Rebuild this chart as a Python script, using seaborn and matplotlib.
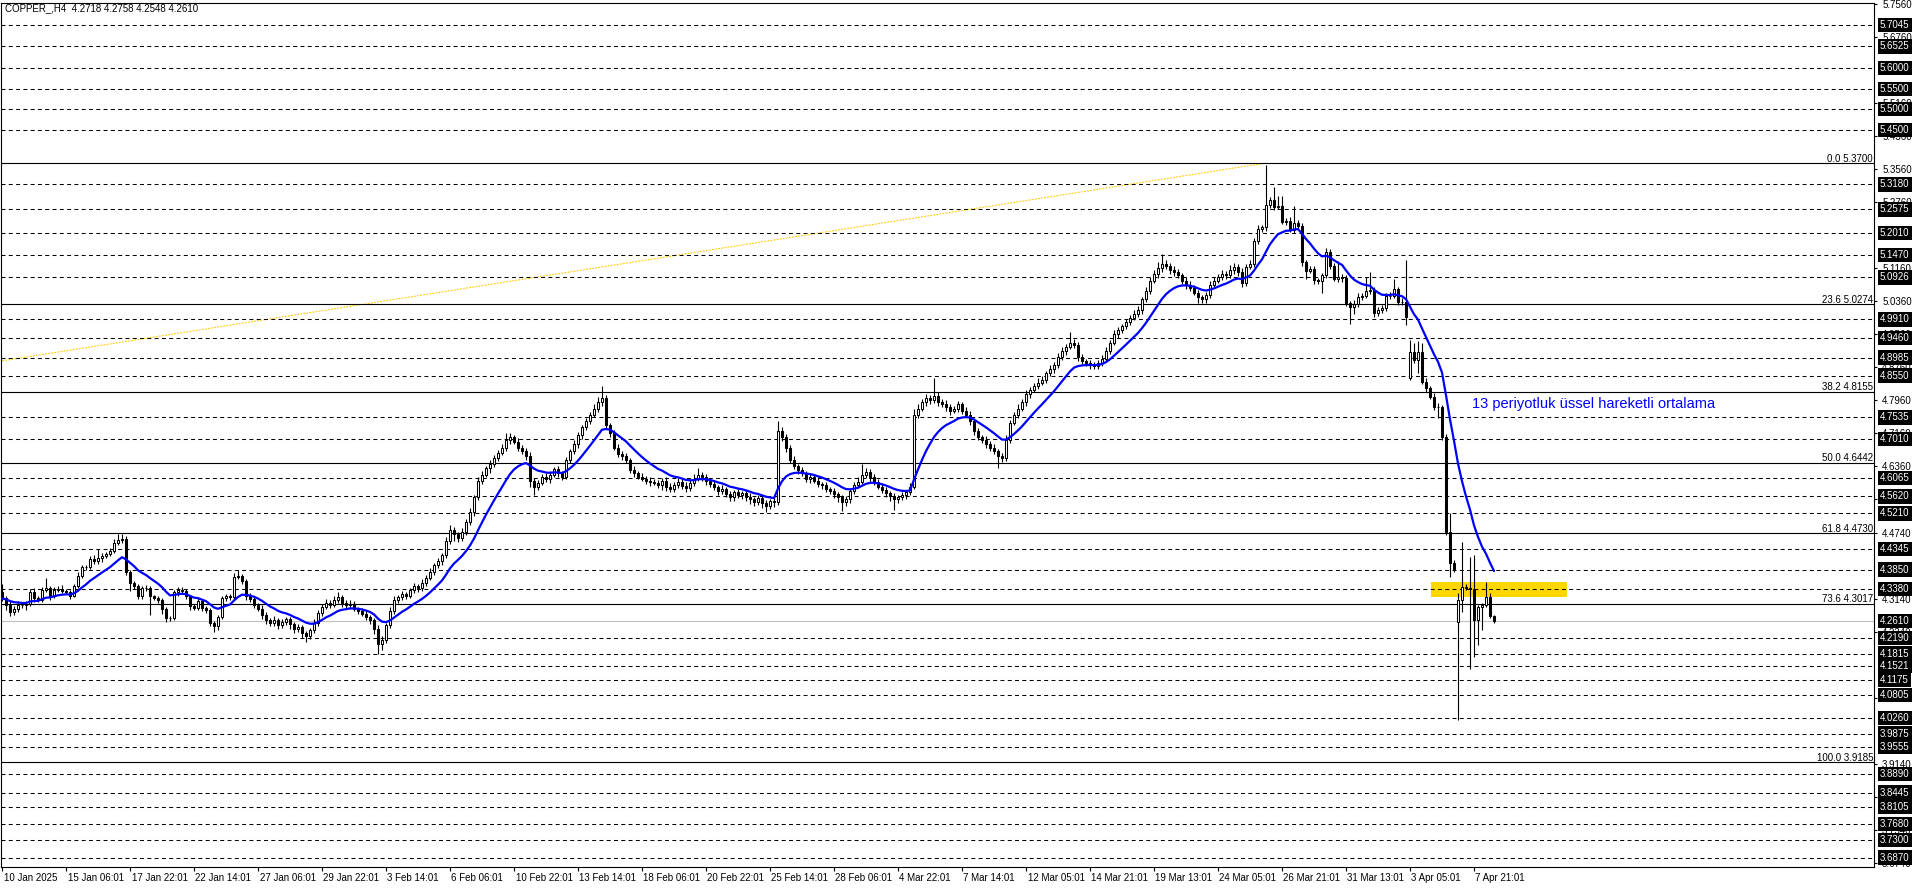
import numpy as np
import pandas as pd
import seaborn as sns
import matplotlib.pyplot as plt
from matplotlib.patches import Rectangle
from matplotlib import transforms

# H4 closes, one per bar (10 Jan 2025 -> 8 Apr 2025)
closes = [
    4.315, 4.300, 4.283, 4.290, 4.300, 4.298, 4.302, 4.330, 4.315, 4.312,
    4.335, 4.340, 4.322, 4.335, 4.338, 4.333, 4.330, 4.322, 4.345, 4.370,
    4.390, 4.392, 4.410, 4.405, 4.412, 4.418, 4.422, 4.430, 4.450, 4.456,
    4.460, 4.378, 4.352, 4.345, 4.322, 4.340, 4.340, 4.320, 4.316, 4.311,
    4.290, 4.267, 4.268, 4.330, 4.336, 4.332, 4.320, 4.296, 4.292, 4.308,
    4.291, 4.286, 4.255, 4.247, 4.270, 4.315, 4.320, 4.318, 4.368, 4.370,
    4.357, 4.320, 4.314, 4.300, 4.290, 4.275, 4.262, 4.255, 4.262, 4.250,
    4.258, 4.265, 4.252, 4.240, 4.245, 4.232, 4.225, 4.238, 4.255, 4.280,
    4.295, 4.305, 4.300, 4.312, 4.318, 4.305, 4.298, 4.302, 4.290, 4.285,
    4.278, 4.270, 4.262, 4.240, 4.205, 4.215, 4.250, 4.285, 4.310, 4.318,
    4.325, 4.322, 4.335, 4.345, 4.340, 4.352, 4.365, 4.380, 4.395, 4.405,
    4.420, 4.455, 4.480, 4.470, 4.462, 4.475, 4.500, 4.525, 4.560, 4.600,
    4.615, 4.630, 4.640, 4.655, 4.668, 4.680, 4.700, 4.705, 4.695, 4.680,
    4.672, 4.660, 4.600, 4.585, 4.595, 4.610, 4.605, 4.615, 4.628, 4.618,
    4.610, 4.650, 4.672, 4.690, 4.710, 4.730, 4.745, 4.760, 4.775, 4.790,
    4.800, 4.735, 4.715, 4.680, 4.665, 4.660, 4.650, 4.625, 4.618, 4.610,
    4.605, 4.600, 4.598, 4.595, 4.590, 4.600, 4.585, 4.580, 4.590, 4.598,
    4.588, 4.582, 4.595, 4.605, 4.615, 4.608, 4.600, 4.592, 4.585, 4.575,
    4.580, 4.568, 4.560, 4.572, 4.565, 4.570, 4.560, 4.555, 4.548, 4.558,
    4.545, 4.540, 4.550, 4.548, 4.720, 4.705, 4.680, 4.650, 4.635, 4.625,
    4.618, 4.605, 4.610, 4.600, 4.592, 4.590, 4.580, 4.575, 4.568, 4.560,
    4.548, 4.555, 4.575, 4.590, 4.598, 4.615, 4.622, 4.608, 4.598, 4.585,
    4.578, 4.570, 4.562, 4.555, 4.560, 4.565, 4.572, 4.585, 4.760, 4.775,
    4.790, 4.800, 4.795, 4.805, 4.790, 4.785, 4.778, 4.770, 4.775, 4.785,
    4.770, 4.760, 4.745, 4.720, 4.705, 4.700, 4.690, 4.680, 4.672, 4.660,
    4.655, 4.700, 4.740, 4.760, 4.775, 4.790, 4.810, 4.820, 4.830, 4.838,
    4.845, 4.860, 4.870, 4.880, 4.900, 4.915, 4.925, 4.935, 4.930, 4.900,
    4.890, 4.885, 4.882, 4.878, 4.885, 4.895, 4.915, 4.935, 4.955, 4.965,
    4.975, 4.985, 4.995, 5.005, 5.015, 5.040, 5.060, 5.085, 5.100, 5.115,
    5.125, 5.120, 5.110, 5.105, 5.098, 5.085, 5.075, 5.068, 5.055, 5.045,
    5.040, 5.050, 5.075, 5.085, 5.095, 5.100, 5.098, 5.110, 5.118, 5.105,
    5.080, 5.118, 5.125, 5.180, 5.210, 5.214, 5.268, 5.280, 5.264, 5.266,
    5.228, 5.230, 5.208, 5.224, 5.218, 5.130, 5.109, 5.112, 5.086, 5.084,
    5.098, 5.155, 5.120, 5.090, 5.093, 5.092, 5.030, 5.022, 5.028, 5.046,
    5.048, 5.060, 5.062, 5.006, 5.015, 5.018, 5.048, 5.048, 5.064, 5.034,
    5.034, 4.998, 4.913, 4.893, 4.913, 4.840, 4.824, 4.804, 4.780, 4.778,
    4.707, 4.477, 4.400, 4.384, 4.311, 4.343, 4.341, 4.338, 4.263, 4.295,
    4.300, 4.319, 4.2718, 4.2610,
]
first_open = 4.330
gap_bars = [352, 364]          # weekend / news gaps
gap_opens = [4.848, 4.258]

# wick lengths in 1/1000 of price
upper_wick = [
    20, 6, 8, 6, 8, 5, 6, 8, 10, 5,
    8, 25, 6, 8, 6, 10, 5, 6, 6, 8,
    6, 5, 8, 10, 22, 6, 5, 6, 8, 15,
    10, 6, 5, 4, 4, 6, 8, 6, 4, 5,
    6, 4, 5, 6, 6, 6, 5, 4, 6, 8,
    5, 6, 5, 5, 6, 5, 6, 5, 8, 15,
    5, 6, 8, 6, 5, 8, 6, 5, 10, 6,
    8, 5, 6, 5, 8, 6, 5, 6, 10, 8,
    6, 8, 5, 10, 12, 6, 5, 8, 6, 5,
    6, 8, 5, 6, 10, 8, 6, 8, 10, 6,
    8, 6, 5, 8, 6, 10, 6, 8, 5, 8,
    6, 10, 12, 8, 6, 10, 8, 8, 6, 10,
    8, 6, 10, 8, 6, 8, 15, 10, 6, 8,
    6, 8, 10, 6, 8, 6, 10, 8, 6, 8,
    6, 8, 6, 10, 8, 6, 8, 6, 10, 12,
    30, 8, 6, 8, 10, 6, 8, 6, 10, 6,
    8, 6, 10, 6, 8, 6, 8, 10, 6, 8,
    6, 8, 10, 12, 15, 6, 8, 6, 8, 6,
    10, 6, 8, 6, 8, 6, 8, 10, 6, 8,
    6, 8, 6, 8, 25, 10, 8, 6, 10, 6,
    8, 6, 10, 6, 8, 6, 8, 6, 8, 6,
    6, 8, 6, 8, 10, 25, 8, 6, 8, 6,
    8, 6, 6, 8, 6, 8, 6, 10, 15, 10,
    8, 10, 8, 45, 10, 8, 10, 8, 6, 8,
    6, 8, 10, 6, 8, 6, 8, 6, 10, 6,
    8, 10, 8, 6, 10, 8, 10, 8, 6, 10,
    8, 6, 10, 8, 10, 8, 6, 25, 8, 6,
    8, 6, 8, 6, 8, 10, 8, 6, 10, 8,
    6, 8, 6, 10, 8, 6, 10, 8, 10, 15,
    25, 10, 8, 10, 8, 6, 8, 10, 6, 8,
    6, 8, 10, 8, 6, 10, 8, 12, 10, 8,
    10, 8, 10, 8, 10, 6, 97, 8, 33, 25,
    25, 6, 8, 42, 8, 6, 6, 8, 8, 6,
    6, 10, 6, 8, 40, 8, 6, 6, 10, 8,
    8, 35, 45, 8, 6, 8, 6, 10, 24, 6,
    8, 101, 27, 22, 25, 20, 8, 6, 8, 8,
    6, 6, 45, 8, 16, 109, 8, 75, 81, 5,
    5, 36, 8, 4,
]
lower_wick = [
    6, 12, 10, 8, 8, 6, 12, 6, 8, 6,
    5, 5, 10, 6, 4, 6, 5, 8, 4, 5,
    5, 6, 5, 6, 6, 8, 6, 5, 5, 5,
    6, 6, 20, 6, 8, 8, 6, 45, 6, 6,
    12, 10, 6, 5, 8, 6, 6, 8, 6, 6,
    6, 6, 8, 14, 8, 6, 6, 6, 6, 6,
    6, 8, 8, 8, 6, 10, 8, 6, 8, 10,
    6, 8, 10, 8, 6, 12, 15, 8, 6, 6,
    8, 6, 8, 6, 8, 10, 6, 8, 6, 8,
    6, 8, 10, 12, 25, 15, 8, 6, 8, 6,
    6, 8, 6, 8, 10, 6, 8, 6, 8, 6,
    8, 6, 8, 15, 10, 8, 6, 8, 10, 6,
    8, 6, 10, 6, 8, 6, 8, 10, 6, 8,
    6, 10, 15, 20, 8, 6, 8, 10, 6, 8,
    8, 6, 8, 6, 10, 8, 6, 8, 6, 8,
    8, 10, 8, 6, 8, 10, 8, 6, 8, 6,
    6, 8, 10, 6, 8, 12, 10, 8, 6, 8,
    8, 10, 6, 8, 6, 8, 10, 6, 8, 10,
    6, 8, 10, 8, 6, 8, 10, 12, 8, 6,
    10, 15, 8, 12, 6, 8, 10, 8, 6, 8,
    6, 8, 10, 6, 8, 10, 8, 6, 10, 12,
    20, 10, 8, 6, 8, 6, 8, 10, 8, 6,
    8, 10, 12, 25, 8, 6, 8, 6, 6, 8,
    6, 8, 10, 6, 8, 6, 8, 10, 6, 8,
    8, 6, 10, 8, 6, 8, 10, 8, 6, 30,
    10, 6, 8, 6, 8, 6, 8, 10, 6, 8,
    6, 8, 6, 8, 6, 8, 10, 6, 8, 10,
    8, 6, 10, 8, 6, 8, 6, 8, 6, 8,
    8, 6, 8, 6, 8, 10, 6, 8, 6, 8,
    8, 6, 10, 8, 6, 8, 10, 8, 6, 15,
    10, 8, 6, 8, 6, 8, 10, 6, 8, 8,
    10, 8, 6, 8, 6, 8, 8, 6, 8, 6,
    6, 8, 6, 8, 6, 10, 20, 6, 8, 6,
    30, 6, 8, 6, 8, 10, 6, 41, 19, 6,
    8, 6, 8, 10, 6, 8, 6, 8, 6, 8,
    8, 21, 4, 8, 33, 6, 8, 6, 8, 27,
    8, 8, 32, 5, 238, 28, 5, 193, 89, 61,
    57, 5, 5, 6,
]

date_labels = ["10 Jan 2025", "15 Jan 06:01", "17 Jan 22:01", "22 Jan 14:01",
               "27 Jan 06:01", "29 Jan 22:01", "3 Feb 14:01", "6 Feb 06:01",
               "10 Feb 22:01", "13 Feb 14:01", "18 Feb 06:01", "20 Feb 22:01",
               "25 Feb 14:01", "28 Feb 06:01", "4 Mar 22:01", "7 Mar 14:01",
               "12 Mar 05:01", "14 Mar 21:01", "19 Mar 13:01", "24 Mar 05:01",
               "26 Mar 21:01", "31 Mar 13:01", "3 Apr 05:01", "7 Apr 21:01"]
bars_per_label = 16

# price scale labels that are still (at least partly) visible
price_ticks = ["5.7560", "5.6760", "5.5160", "5.4360", "5.3560", "5.2760",
               "5.1160", "5.0360", "4.9560", "4.8760", "4.7960", "4.7160",
               "4.6360", "4.5560", "4.4740", "4.3140", "4.2340",
               "4.0740", "3.9140", "3.8340", "3.7540", "3.6740"]

hline_prices = [5.7045, 5.6525, 5.6000, 5.5500, 5.5000, 5.4500, 5.3180, 5.2575,
                5.2010, 5.1470, 5.0926, 4.9910, 4.9460, 4.8985, 4.8550, 4.7535,
                4.7010, 4.6065, 4.5620, 4.5210, 4.4345, 4.3850, 4.3380, 4.2190,
                4.1815, 4.1521, 4.1175, 4.0805, 4.0260, 3.9875, 3.9555, 3.8890,
                3.8445, 3.8105, 3.7680, 3.7300, 3.6870]
bid_price = 4.2610

fib_pct = [0.0, 23.6, 38.2, 50.0, 61.8, 73.6, 100.0]
fib_price = [5.3700, 5.0274, 4.8155, 4.6442, 4.4730, 4.3017, 3.9185]
fib_anchor_bars = [-641, 316]      # swing low (off screen) -> swing high
fib_anchor_prices = [3.9185, 5.3700]

zone_bars = [357.25, 391.25]
zone_prices = [4.3184, 4.3547]

title = "COPPER_,H4  4.2718 4.2758 4.2548 4.2610"
ema_note = "13 periyotluk üssel hareketli ortalama"

# ---------------------------------------------------------------
sns.set_style("white")
plt.rcParams['font.family'] = ['Liberation Sans', 'DejaVu Sans']

closes = np.array(closes)
bars = np.arange(len(closes))
opens = np.r_[first_open, closes[:-1]]
for b, o in zip(gap_bars, gap_opens):
    opens[b] = o
tops = np.maximum(opens, closes)
bots = np.minimum(opens, closes)
highs = tops + np.array(upper_wick) / 1000
lows = bots - np.array(lower_wick) / 1000

df = pd.DataFrame({"bar": bars, "close": closes})
df["ema"] = df["close"].ewm(span=13, adjust=False).mean()

W, H = 1916, 888
fig = plt.figure(figsize=(W / 100, H / 100), dpi=100)
fig.patch.set_facecolor("white")
ax = fig.add_axes([1 / W, 21 / H, 1873 / W, 864 / H])
ax.set_facecolor("white")

# yellow zone
ax.add_patch(Rectangle((zone_bars[0], zone_prices[0]), zone_bars[1] - zone_bars[0],
                       zone_prices[1] - zone_prices[0], facecolor="#FFD700",
                       edgecolor="none", zorder=1))

# fib trend line
ax.plot(fib_anchor_bars, fib_anchor_prices, color="#FFC800", lw=0.8,
        dashes=(1.6, 1.2), zorder=2)

# horizontal lines
for p in hline_prices:
    ax.axhline(p, color="black", lw=0.75, dashes=(3.8, 3.2), zorder=2)
ax.axhline(bid_price, color="#C0C0C0", lw=0.8, zorder=2)

# fib levels
blend = transforms.blended_transform_factory(ax.transAxes, ax.transData)
lift = transforms.ScaledTranslation(0, 1.5 / 100, fig.dpi_scale_trans)
for pct, p in zip(fib_pct, fib_price):
    ax.axhline(p, color="black", lw=0.8, zorder=2)
    ax.text(0.9995, p, f"{pct:.1f} {p:.4f}", transform=blend + lift,
            ha="right", va="baseline", fontsize=7, color="black", zorder=6)

# candles
ax.vlines(bars, lows, highs, color="black", lw=0.8, zorder=3)
bull = closes >= opens
ax.bar(bars[bull], (closes - opens)[bull], bottom=opens[bull], width=0.6,
       facecolor="white", edgecolor="black", linewidth=0.75, zorder=4)
ax.bar(bars[~bull], (opens - closes)[~bull], bottom=closes[~bull], width=0.6,
       facecolor="black", edgecolor="black", linewidth=0.75, zorder=4)

# EMA 13
sns.lineplot(data=df, x="bar", y="ema", color="#0000FF", lw=1.6, ax=ax, zorder=5)
ax.text(367.5, 4.785, ema_note, color="#0000FF", fontsize=10.5, va="center",
        ha="left", zorder=6)

ax.set_xlim(-0.25, 468)
ax.set_ylim(3.6642, 5.7577)
ax.set_xlabel("")
ax.set_ylabel("")

# right price axis
tick_vals = [float(t) for t in price_ticks]
ax.yaxis.tick_right()
ax.set_yticks(tick_vals)
ax.set_yticklabels(price_ticks, fontsize=7)
ax.tick_params(axis="y", right=True, left=False, length=2.5, width=0.8,
               pad=3.3, colors="black")

# line price boxes
for p in hline_prices + [bid_price]:
    ax.text(1.0032, p, f"{p:.4f}", transform=blend, ha="left", va="center",
            fontsize=7, color="white", clip_on=False, zorder=10,
            bbox=dict(boxstyle="square,pad=0.22", fc="black", ec="none"))

# time axis
ax.set_xticks(np.arange(len(date_labels)) * bars_per_label)
ax.set_xticklabels(date_labels, fontsize=7, ha="left")
ax.tick_params(axis="x", bottom=True, length=3, width=0.8, pad=1.5, colors="black")
shift = transforms.ScaledTranslation(1.5 / 100, 0, fig.dpi_scale_trans)
for lab in ax.get_xticklabels():
    lab.set_transform(lab.get_transform() + shift)

for s in ax.spines.values():
    s.set_color("black")
    s.set_linewidth(0.8)

ax.text(4 / 1873, 0.9942, title, transform=ax.transAxes, fontsize=7,
        va="center", ha="left", color="black", zorder=10)

fig.savefig("out.png", dpi=100, facecolor="white")
